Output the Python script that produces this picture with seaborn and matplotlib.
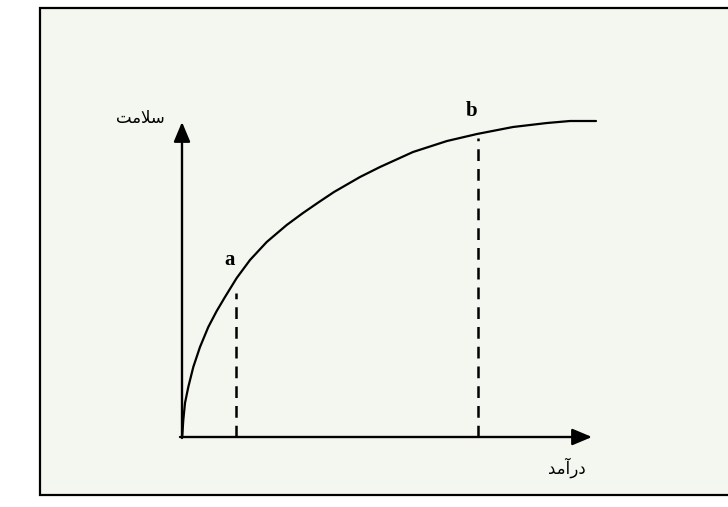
import matplotlib

matplotlib.use('Agg')
import matplotlib.pyplot as plt
import pandas as pd
import seaborn as sns
from matplotlib.patches import Rectangle

# health vs income curve (origin at the axes corner)
income = [0, 0.3, 1.3, 3, 6.3, 11.3, 18, 26.3, 34.7, 43, 54.7, 68, 84.7, 104.7,
          121, 137, 152, 178, 198, 231, 265, 295, 331, 365, 388, 414]
health = [0, 2, 17, 34, 50, 70, 90, 110, 126, 140, 159, 177, 195, 212,
          224, 235, 245, 260, 270, 285, 296, 303, 310, 314, 316, 316]

# the two marked points and where their dashed drops start
mark_names = ['a', 'b']
mark_income = [54, 296]
mark_top = [144, 299]

# labels (Persian, written in presentation forms so they join without a shaper)
y_label = '\ufe96\ufee3\ufefc\ufeb3'            # سلامت
x_label = '\ufeaa\ufee3\ufe81\ufead\ufea9'      # درآمد

sns.set_theme(style='white')
plt.rcParams['font.family'] = ['DejaVu Sans']
plt.rcParams['text.color'] = 'black'

fig = plt.figure(figsize=(7.28, 5.07), dpi=100)
ax = fig.add_axes([0, 0, 1, 1])
ax.set_xlim(-182, 546)
ax.set_ylim(-70, 437)
ax.set_axis_off()

# framed panel
ax.add_patch(Rectangle((-142, -58), 800, 487, facecolor='#f4f7ef',
                       edgecolor='black', linewidth=1.6, zorder=0))

df = pd.DataFrame({'income': income, 'health': health})
sns.lineplot(data=df, x='income', y='health', sort=False, color='black',
             linewidth=1.6, ax=ax, zorder=3)

# axes with arrow heads
arrow = dict(arrowstyle='-|>,head_length=1.0,head_width=0.42', color='black',
             linewidth=1.7, shrinkA=0, shrinkB=0)
ax.annotate('', xy=(0, 315), xytext=(0, -1), arrowprops=arrow)
ax.annotate('', xy=(410, 0), xytext=(-2, 0), arrowprops=arrow)

for name, xi, top in zip(mark_names, mark_income, mark_top):
    ax.plot([xi, xi], [0, top], color='black', linewidth=1.8,
            linestyle=(0, (4.7, 3.2)), zorder=2)

ax.text(48, 177, mark_names[0], ha='center', va='center', fontsize=15,
        fontweight='bold', family='Liberation Serif', color='black')
ax.text(290, 326, mark_names[1], ha='center', va='center', fontsize=15,
        fontweight='bold', family='Liberation Serif', color='black')

ax.text(-42, 319, y_label, ha='center', va='center', fontsize=12, color='black')
ax.text(385, -31, x_label, ha='center', va='center', fontsize=12, color='black')

fig.savefig('out.png', dpi=100)
